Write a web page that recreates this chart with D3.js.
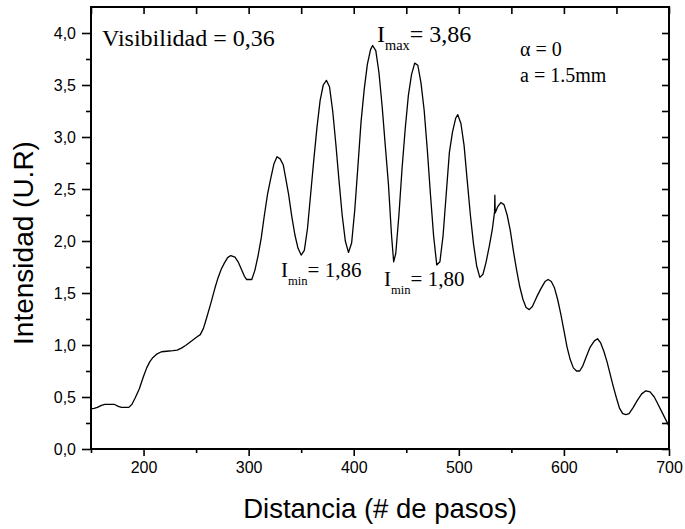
<!DOCTYPE html>
<html><head><meta charset="utf-8">
<script src="https://cdn.jsdelivr.net/npm/d3@7"></script>
<style>
html,body{margin:0;padding:0;background:#fff;}
svg{display:block;}
</style></head>
<body>
<svg id="chart" width="685" height="529"></svg>
<script>
// ---- data ----
const distance = [150,153,156,160,163,168,172,176,179,183,186,189,192,196,200,203,206,209,213,217,222,228,232,236,240,246,251,254,257,260,264,268,271,274,277,280,283,287,290,293,296,298,303,306,309,312,315,318,321,324,327,330,333,335,338,341,344,347,350,353,356,359,362,365,368,371,374,377,380,383,386,389,392,395,398,401,404,407,410,413,416,418,421,424,427,430,433,436,438,440,443,446,449,452,455,458,461,464,467,470,473,476,479,482,485,488,491,494,497,499,502,505,508,511,514,517,520,523,526,529,532,534,534.3,534.6,537,540,543,546,549,552,555,558,561,564,567,570,574,578,582,585,588,591,594,597,600,603,606,609,612,615,618,621,625,629,632,635,638,641,644,647,650,653,656,659,662,666,670,674,678,682,686,690,694,697,700];
const intensity = [0.385,0.39,0.40,0.42,0.43,0.43,0.43,0.41,0.40,0.40,0.40,0.43,0.49,0.58,0.70,0.78,0.84,0.88,0.915,0.935,0.94,0.945,0.95,0.97,0.995,1.04,1.08,1.10,1.16,1.26,1.40,1.55,1.65,1.73,1.79,1.84,1.86,1.845,1.80,1.73,1.66,1.63,1.63,1.72,1.86,2.03,2.25,2.45,2.60,2.74,2.81,2.79,2.73,2.62,2.45,2.24,2.06,1.93,1.865,1.91,2.12,2.45,2.78,3.09,3.35,3.50,3.545,3.48,3.25,2.93,2.58,2.25,2.00,1.89,1.98,2.30,2.72,3.15,3.46,3.70,3.84,3.88,3.83,3.62,3.30,2.92,2.55,2.05,1.80,1.88,2.25,2.70,3.08,3.40,3.60,3.71,3.69,3.52,3.26,2.88,2.45,2.05,1.77,1.80,2.05,2.45,2.85,3.05,3.18,3.215,3.13,2.92,2.58,2.25,1.97,1.76,1.65,1.68,1.80,1.95,2.12,2.28,2.44,2.27,2.33,2.37,2.35,2.25,2.10,1.90,1.72,1.56,1.44,1.36,1.34,1.37,1.46,1.54,1.61,1.63,1.61,1.55,1.44,1.30,1.14,0.98,0.86,0.78,0.75,0.75,0.80,0.88,0.98,1.04,1.06,1.02,0.94,0.84,0.72,0.60,0.49,0.39,0.34,0.33,0.34,0.40,0.47,0.53,0.56,0.55,0.50,0.42,0.34,0.28,0.22];
const xMajorTicks = [200,300,400,500,600,700];
const xMinorTicks = [150,250,350,450,550,650];
const yMajorTicks = [0,0.5,1.0,1.5,2.0,2.5,3.0,3.5,4.0];
const yMinorTicks = [0.25,0.75,1.25,1.75,2.25,2.75,3.25,3.75];
const xDomain = [150,700];
const yDomain = [0,4.25];
const xTitle = "Distancia (# de pasos)";
const yTitle = "Intensidad (U.R)";

// ---- layout ----
const svg = d3.select("#chart");
const L = 91, T = 7, R = 669, B = 449;
const x = d3.scaleLinear().domain(xDomain).range([L, R]);
const y = d3.scaleLinear().domain(yDomain).range([B, T]);
const fmtY = v => d3.format(".1f")(v).replace(".", ",");
const sans = "Arial, 'Liberation Sans', sans-serif";
const serif = "'Times New Roman', 'Liberation Serif', serif";

function styleAxis(g){
  g.select(".domain").remove();
  g.selectAll(".tick line").attr("stroke","#000").attr("stroke-width",1.6);
  g.selectAll(".tick text").attr("fill","#000").attr("font-family",sans).attr("font-size",16);
}

// bottom major
svg.append("g").attr("transform",`translate(0,${B})`)
  .call(d3.axisBottom(x).tickValues(xMajorTicks).tickSize(7).tickPadding(6).tickFormat(d3.format("d")))
  .call(styleAxis);
svg.append("g").attr("transform",`translate(0,${B})`)
  .call(d3.axisBottom(x).tickValues(xMinorTicks).tickSize(4).tickFormat(""))
  .call(styleAxis);
// top (inward)
svg.append("g").attr("transform",`translate(0,${T})`)
  .call(d3.axisBottom(x).tickValues(xMajorTicks.concat(xMinorTicks)).tickSize(7).tickFormat(""))
  .call(styleAxis);
// left major/minor
svg.append("g").attr("transform",`translate(${L},0)`)
  .call(d3.axisLeft(y).tickValues(yMajorTicks).tickSize(9).tickPadding(6).tickFormat(fmtY))
  .call(styleAxis);
svg.append("g").attr("transform",`translate(${L},0)`)
  .call(d3.axisLeft(y).tickValues(yMinorTicks).tickSize(5).tickFormat(""))
  .call(styleAxis);
// right (inward)
svg.append("g").attr("transform",`translate(${R},0)`)
  .call(d3.axisLeft(y).tickValues(yMajorTicks.concat(yMinorTicks)).tickSize(7).tickFormat(""))
  .call(styleAxis);

// frame
svg.append("rect").attr("x",L).attr("y",T).attr("width",R-L).attr("height",B-T)
  .attr("fill","none").attr("stroke","#000").attr("stroke-width",2);

// line
const pts = distance.map((d,i)=>[d,intensity[i]]);
svg.append("path").datum(pts)
  .attr("fill","none").attr("stroke","#000").attr("stroke-width",1.3).attr("stroke-linejoin","round")
  .attr("d", d3.line().x(d=>x(d[0])).y(d=>y(d[1])));

// titles
svg.append("text").attr("x",380).attr("y",518).attr("text-anchor","middle")
  .attr("font-family",sans).attr("font-size",27.5).attr("fill","#000").text(xTitle);
svg.append("text").attr("transform",`translate(33,243) rotate(-90)`).attr("text-anchor","middle")
  .attr("font-family",sans).attr("font-size",28).attr("fill","#000").text(yTitle);

// annotations
function ann(px, py, parts, size){
  const t = svg.append("text").attr("x",px).attr("y",py).attr("font-family",serif).attr("font-size",size).attr("fill","#000");
  parts.forEach(p=>{
    const s = t.append("tspan").text(p.t);
    if(p.sub){ s.attr("font-size",size*0.6).attr("dy",p.dy); }
    else if(p.dy){ s.attr("dy",p.dy); }
  });
}
ann(102,46,[{t:"Visibilidad = 0,36"}],24);
ann(377,42,[{t:"I"},{t:"max",sub:true,dy:8},{t:"= 3,86",dy:-8}],24);
ann(520,56,[{t:"\u03B1 = 0"}],20);
ann(520,82,[{t:"a = 1.5mm"}],20);
ann(281,277,[{t:"I"},{t:"min",sub:true,dy:8},{t:"= 1,86",dy:-8}],21);
ann(384,286,[{t:"I"},{t:"min",sub:true,dy:8},{t:"= 1,80",dy:-8}],21);
</script>
</body></html>
